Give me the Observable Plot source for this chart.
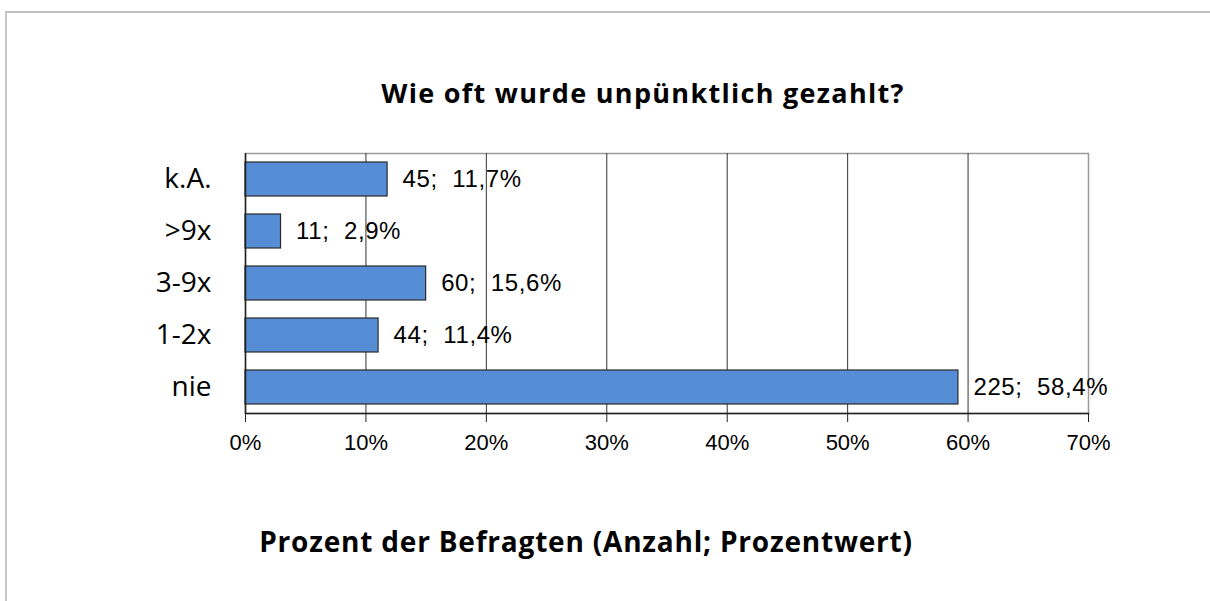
<!DOCTYPE html>
<html>
<head>
<meta charset="utf-8">
<script src="https://cdn.jsdelivr.net/npm/d3@7"></script>
<script src="https://cdn.jsdelivr.net/npm/@observablehq/plot@0.6"></script>
<style>
  html, body { margin: 0; padding: 0; background: #fff; }
  #wrap { position: relative; width: 1210px; height: 601px; overflow: hidden; background: #fff; }
  #border { position: absolute; left: 5px; top: 11px; width: 1300px; height: 700px;
            border-top: 2px solid #c0c0c0; border-left: 2px solid #c8c8c8; }
  #title { position: absolute; left: 0; width: 1286px; top: 74px; text-align: center;
           font-family: "Open Sans", sans-serif; font-weight: bold; font-size: 27px; letter-spacing: 1.3px; color: #000; }
  #xtitle { position: absolute; left: 0; width: 1172px; top: 522px; text-align: center;
            font-family: "Open Sans", sans-serif; font-weight: bold; font-size: 28px; letter-spacing: 0.8px; color: #000; }
  #chart { position: absolute; left: 0; top: 130px; }
  #chart text.vlabel { letter-spacing: 0.6px; }
</style>
</head>
<body>
<div id="wrap">
  <div id="border"></div>
  <div id="title">Wie oft wurde unpünktlich gezahlt?</div>
  <div id="chart"></div>
  <div id="xtitle">Prozent der Befragten (Anzahl; Prozentwert)</div>
</div>
<script>
const categories = ["k.A.", ">9x", "3-9x", "1-2x", "nie"];
const counts = [45, 11, 60, 44, 225];
const percentLabels = ["11,7%", "2,9%", "15,6%", "11,4%", "58,4%"];
const barValues = [11.8, 2.95, 15.0, 11.05, 59.2];
const xTicks = [0, 10, 20, 30, 40, 50, 60, 70];
const gridTicks = [10, 20, 30, 40, 50, 60];

const data = categories.map((c, i) => ({
  category: c,
  value: barValues[i],
  label: counts[i] + ";\u00a0\u00a0" + percentLabels[i]
}));

const chart = Plot.plot({
  width: 1210,
  height: 350,
  marginTop: 23,
  marginBottom: 67,
  marginLeft: 245,
  marginRight: 122,
  style: { background: "transparent", overflow: "visible" },
  x: { domain: [0, 70], label: null },
  y: { domain: categories, paddingInner: 0.35, paddingOuter: 0.175, label: null },
  marks: [
    Plot.frame({ stroke: "#9a9a9a", strokeWidth: 1.5 }),
    Plot.ruleX(gridTicks, { stroke: "#333", strokeWidth: 1 }),
    Plot.barX(data, { x: "value", y: "category", fill: "#558ED5", stroke: "#2a2a2a", strokeWidth: 1.2 }),
    Plot.text(data, { x: "value", y: "category", text: "label", dx: 15, textAnchor: "start",
      fontSize: 24, fontFamily: "Liberation Sans, Arial, sans-serif", fill: "#000", className: "vlabel" }),
    Plot.frame({ anchor: "bottom", stroke: "#222", strokeWidth: 1.5 }),
    Plot.ruleX([0], { stroke: "#222", strokeWidth: 1.5 }),
    Plot.axisX({ ticks: xTicks, tickFormat: d => d + "%", tickSize: 9, tickPadding: 12, label: null,
      fontSize: 22, fontFamily: "Liberation Sans, Arial, sans-serif", color: "#000", stroke: "#222" }),
    Plot.axisY({ tickSize: 0, tickPadding: 34, fontSize: 28, fontFamily: "Open Sans, sans-serif",
      color: "#000", label: null })
  ]
});
chart.querySelectorAll("g[aria-label='text'] text").forEach(t => t.style.letterSpacing = "0.6px");
document.getElementById("chart").appendChild(chart);
</script>
</body>
</html>
